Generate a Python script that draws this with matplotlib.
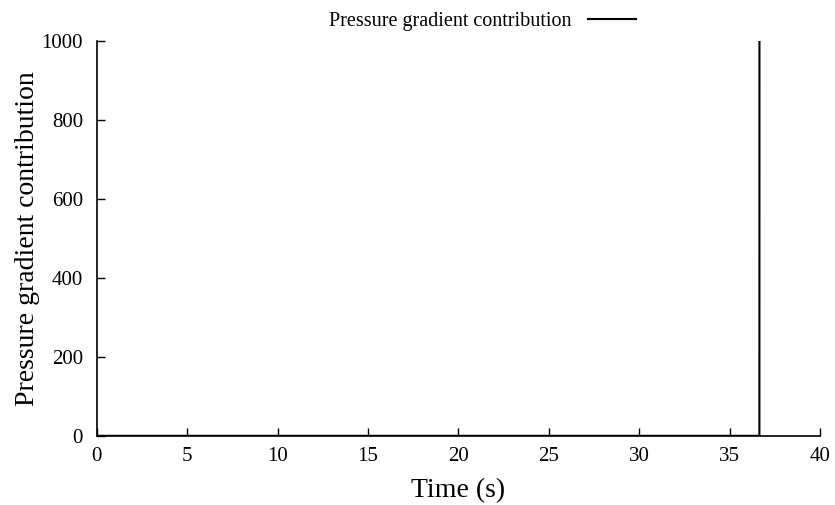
import matplotlib.pyplot as plt

time = [0.0, 36.65, 36.66]
contribution = [0.0, 0.0, 5000.0]
xticks = [0, 5, 10, 15, 20, 25, 30, 35, 40]
yticks = [0, 200, 400, 600, 800, 1000]

plt.rcParams['font.family'] = ['Liberation Serif', 'DejaVu Serif']

fig = plt.figure(figsize=(8.35, 5.05), dpi=100)
ax = fig.add_axes([0.116, 0.137, 0.866, 0.782])

ax.plot(time, contribution, color='black', lw=1.5, label='Pressure gradient contribution')

ax.set_xlim(0, 40)
ax.set_ylim(0, 1000)
ax.set_xticks(xticks)
ax.set_yticks(yticks)
ax.tick_params(direction='in', length=6, width=1, labelsize=15)
ax.tick_params(axis='x', pad=8)
ax.tick_params(axis='y', pad=10)
for side in ['top', 'right']:
    ax.spines[side].set_visible(False)
for side in ['left', 'bottom']:
    ax.spines[side].set_linewidth(1.2)

ax.set_xlabel('Time (s)', fontsize=20, labelpad=9)
ax.set_ylabel('Pressure gradient contribution', fontsize=20, labelpad=1)

fig.legend(loc='upper center', bbox_to_anchor=(0.578, 1.013), frameon=False,
           markerfirst=False, fontsize=14.5, handlelength=2.4)

fig.savefig('out.png', dpi=100)
